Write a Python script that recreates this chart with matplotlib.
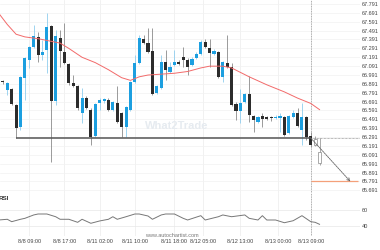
import matplotlib
matplotlib.use("Agg")
import matplotlib.pyplot as plt
from matplotlib.patches import Rectangle

plt.rcParams['font.family'] = ['Liberation Sans', 'DejaVu Sans']

# hourly candles, last one is 8/13 09:00
opens = [66.912, 66.821, 66.833, 66.652, 66.404, 66.957, 67.160, 67.306, 67.419, 67.216,
         67.272, 67.543, 66.697, 67.408, 67.250, 67.114, 66.900, 66.866, 66.562, 66.731,
         66.596, 66.303, 66.675, 66.697, 66.709, 66.596, 66.675, 66.562, 66.404, 66.596,
         66.912, 67.126, 67.396, 67.351, 67.261, 66.788, 66.844, 67.137, 67.024, 67.103,
         67.137, 67.193, 67.160, 67.103, 67.182, 67.227, 67.363, 67.295, 67.227, 67.250,
         66.968, 67.126, 67.081, 66.664, 66.585, 66.686, 66.776, 66.528, 66.461, 66.528,
         66.517, 66.506, 66.506, 66.506, 66.517, 66.337, 66.517, 66.562, 66.370, 66.517,
         66.303]
highs = [66.934, 66.912, 66.844, 66.664, 66.979, 67.193, 67.317, 67.554, 67.475, 67.385,
         67.689, 67.554, 67.498, 67.498, 67.577, 67.126, 66.990, 66.878, 66.844, 66.754,
         66.618, 66.675, 66.731, 66.731, 66.731, 66.697, 66.866, 66.573, 66.641, 66.923,
         67.216, 67.441, 67.441, 67.520, 67.520, 66.878, 67.216, 67.272, 67.137, 67.272,
         67.160, 67.306, 67.182, 67.193, 67.250, 67.385, 67.396, 67.396, 67.284, 67.261,
         67.148, 67.441, 67.126, 66.686, 66.833, 66.788, 66.979, 66.540, 66.528, 66.562,
         66.528, 66.528, 66.540, 66.562, 66.528, 66.540, 66.596, 66.618, 66.675, 66.528,
         66.348]
lows = [66.889, 66.765, 66.652, 66.280, 66.370, 66.709, 67.069, 67.295, 67.137, 67.160,
        67.013, 66.010, 66.652, 67.081, 67.114, 66.878, 66.855, 66.596, 66.449, 66.607,
        66.201, 66.291, 66.596, 66.675, 66.585, 66.585, 66.449, 66.291, 66.291, 66.585,
        66.900, 67.114, 67.340, 67.238, 66.765, 66.776, 66.833, 66.934, 67.013, 67.092,
        67.103, 67.081, 66.990, 67.092, 67.171, 67.216, 67.295, 67.081, 67.216, 66.957,
        66.912, 67.069, 66.641, 66.483, 66.449, 66.675, 66.461, 66.348, 66.449, 66.404,
        66.483, 66.472, 66.495, 66.348, 66.303, 66.325, 66.506, 66.404, 66.201, 66.258,
        66.179]
closes = [66.906, 66.900, 66.664, 66.393, 66.968, 67.182, 67.306, 67.430, 67.216, 67.250,
          67.532, 66.697, 67.430, 67.261, 67.126, 66.900, 66.866, 66.618, 66.731, 66.618,
          66.291, 66.664, 66.709, 66.720, 66.596, 66.686, 66.461, 66.404, 66.630, 66.912,
          67.126, 67.408, 67.351, 67.250, 66.776, 66.866, 67.137, 67.047, 67.081, 67.137,
          67.114, 67.160, 67.081, 67.171, 67.227, 67.363, 67.306, 67.238, 67.261, 66.968,
          67.137, 67.081, 66.652, 66.585, 66.675, 66.776, 66.540, 66.483, 66.517, 66.495,
          66.495, 66.500, 66.517, 66.528, 66.314, 66.528, 66.562, 66.416, 66.517, 66.291,
          66.201]

# bars after the breakout (drawn hollow)
next_open = [66.27, 66.122]
next_high = [66.30, 66.28]
next_low = [66.19, 65.976]
next_close = [66.20, 65.998]

ma_idx = [-1, 1, 3, 5, 8, 11, 13, 15, 18, 21, 24, 27, 29, 31, 33, 36, 39, 42, 45, 47,
          50, 52, 56, 60, 64, 67, 70, 72]
ma_val = [67.69, 67.56, 67.45, 67.42, 67.40, 67.37, 67.35, 67.29, 67.19, 67.13, 67.05,
          66.96, 66.93, 66.97, 66.99, 67.00, 67.01, 67.03, 67.07, 67.09, 67.09, 67.07,
          66.97, 66.88, 66.80, 66.73, 66.67, 66.60]

rsi_idx = [-1, 1, 2, 4, 5, 7, 8, 10, 12, 13, 15, 17, 18, 20, 22, 24, 25, 26, 28, 30,
           31, 33, 34, 36, 37, 39, 41, 42, 45, 46, 49, 50, 52, 55, 56, 58, 59, 60, 62, 64,
           66, 68, 70, 71, 72]
rsi_val = [47.5, 48.4, 45.4, 48.4, 49.6, 53.8, 55, 55, 51.6, 48.4, 48.4, 44.6, 48.4, 43.4,
           46.3, 48.4, 51.6, 48.4, 51.6, 55, 55, 52.5, 48.4, 53.8, 55, 55, 49.6, 47.5, 52.9,
           47.5, 51.6, 53.8, 51.6, 53.8, 49.6, 47.5, 52.9, 47.5, 47.5, 44.1, 46.6, 52.9,
           45.4, 44.6, 42.1]

support = 66.28
support_start = 3
target = 65.79
forecast_bars = 9

xtick_idx = [6, 14, 22, 30, 38.9, 45.5, 54, 62.5, 70]
xtick_lab = ['8/8 09:00', '8/8 17:00', '8/11 02:00', '8/11 10:00', '8/11 18:00',
             '8/12 05:00', '8/12 13:00', '8/13 00:00', '8/13 09:00']
ytick_val = [65.691, 65.791, 65.891, 65.991, 66.091, 66.191, 66.291, 66.391, 66.491,
             66.591, 66.691, 66.791, 66.891, 66.991, 67.091, 67.191, 67.291, 67.391,
             67.491, 67.591, 67.691, 67.791]

BLUE = '#1c9fe0'
DARK = '#2c2c2c'
XMIN, XMAX = -0.66, 81.2

fig = plt.figure(figsize=(3.8, 2.5), dpi=100)
ax = fig.add_axes([0, 0.228, 0.9474, 0.772])
ax2 = fig.add_axes([0, 0.056, 0.9474, 0.172])

for a in (ax, ax2):
    for s in a.spines.values():
        s.set_visible(False)
    a.set_xlim(XMIN, XMAX)
    a.set_xticks(xtick_idx)
    a.grid(axis='x', color='#ececec', lw=0.5)
    a.set_axisbelow(True)
    a.yaxis.tick_right()
    a.tick_params(length=0, labelsize=4, labelcolor='#444', pad=1.5)

ax.set_ylim(65.660, 67.836)
ax.set_yticks(ytick_val)
ax.set_yticklabels([f'{v:.3f}' for v in ytick_val])
ax.grid(axis='y', color='#f2f2f2', lw=0.5)
ax.set_xticklabels([])

last = len(opens) - 1
for i, (o, h, l, c) in enumerate(zip(opens, highs, lows, closes)):
    up = c > o
    ax.vlines(i, l, h, color='#8fcdee' if up else '#8a8a8a', lw=0.6, zorder=2)
    ax.add_patch(Rectangle((i - 0.35, min(o, c)), 0.7, max(abs(c - o), 0.012),
                           facecolor=BLUE if up else DARK, edgecolor='none', zorder=3))
for j, (o, h, l, c) in enumerate(zip(next_open, next_high, next_low, next_close)):
    i = last + 1 + j
    ax.vlines(i, l, h, color='#888', lw=0.5, zorder=2)
    ax.add_patch(Rectangle((i - 0.35, min(o, c)), 0.7, abs(c - o),
                           facecolor='white', edgecolor='#888', lw=0.5, zorder=3))

ax.plot(ma_idx, ma_val, color='#f26a6a', lw=0.7, zorder=4)

ax.hlines(support, support_start, last, color='#555', lw=1.1, zorder=4)
ax.hlines(support, last, XMAX, color='#777', lw=0.5, linestyles=(0, (1, 1)), zorder=4)
ax.hlines(target, last, last + 10.7, color='#f4a07a', lw=0.9, zorder=4)
ax.annotate('', xy=(last + forecast_bars, target), xytext=(last, support),
            arrowprops=dict(arrowstyle='->', color='#666', lw=0.6,
                            linestyle=(0, (2, 1)), shrinkA=0, shrinkB=0,
                            mutation_scale=5), zorder=5)
ax.axvline(last, color='#999', lw=0.6, ls=(0, (1, 1)), zorder=1)

# watermark
ax.text(0.49, 0.347, 'What2Trade', transform=ax.transAxes, fontsize=8,
        fontweight='bold', color='#e6ebf0', ha='center', va='center', zorder=1)

ax2.set_ylim(27.5, 81.25)
ax2.set_yticks([40, 60])
ax2.grid(axis='y', color='#e8e8e8', lw=0.5)
ax2.set_xticklabels(xtick_lab)
ax2.tick_params(axis='x', pad=2.5)
ax2.plot(rsi_idx, rsi_val, color='#777', lw=0.7)
ax2.axvline(last, color='#999', lw=0.6, ls=(0, (1, 1)), zorder=1)
ax2.text(-0.004, 0.87, 'RSI', transform=ax2.transAxes, fontsize=4.5,
         fontweight='bold', color='#333', ha='left', va='center')

fig.text(0.451, 0.057, 'www.autochartist.com', fontsize=4, color='#777',
         ha='center', va='center')

fig.savefig('out.png', dpi=100)
